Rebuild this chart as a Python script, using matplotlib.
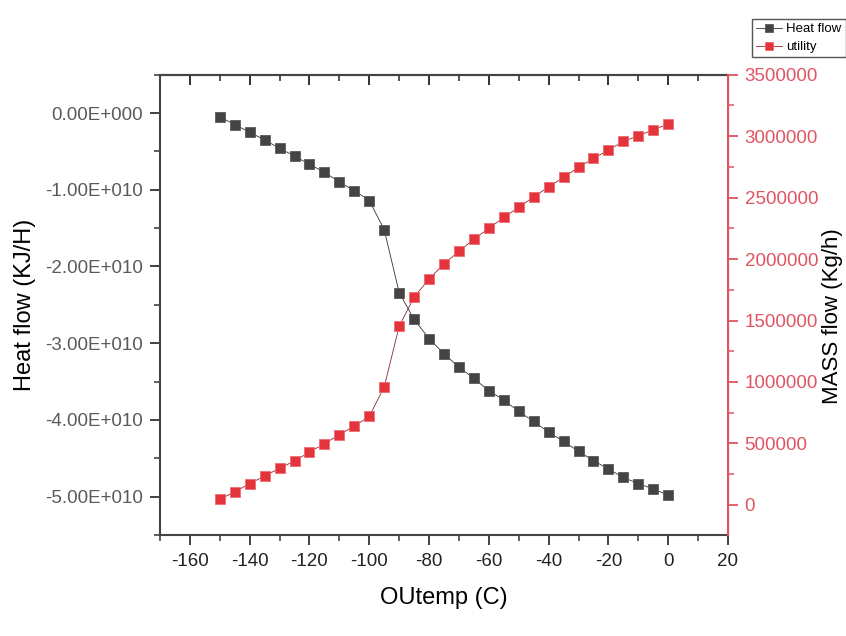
import matplotlib.pyplot as plt
from matplotlib.ticker import FuncFormatter, MultipleLocator

plt.rcParams['font.family'] = ['Liberation Sans', 'DejaVu Sans']
plt.rcParams['axes.unicode_minus'] = False

# OUtemp (C)
temp = [-150, -145, -140, -135, -130, -125, -120, -115, -110, -105, -100,
        -95, -90, -85, -80, -75, -70, -65, -60, -55, -50,
        -45, -40, -35, -30, -25, -20, -15, -10, -5, 0]

# Heat flow (KJ/H), in units of 1e10
heat = [-0.05, -0.15, -0.25, -0.35, -0.46, -0.56, -0.67, -0.77, -0.90, -1.01, -1.14,
        -1.52, -2.34, -2.69, -2.94, -3.14, -3.31, -3.46, -3.62, -3.74, -3.89,
        -4.02, -4.16, -4.28, -4.41, -4.53, -4.64, -4.75, -4.83, -4.90, -4.98]
heat = [h * 1e10 for h in heat]

# utility MASS flow (Kg/h)
mass = [46000, 105000, 173000, 235000, 298000, 357000, 430000, 498000, 571000, 641000, 720000,
        960000, 1453000, 1691000, 1837000, 1962000, 2063000, 2162000, 2250000, 2339000, 2421000,
        2506000, 2587000, 2665000, 2746000, 2819000, 2887000, 2957000, 3003000, 3052000, 3098000]

red = '#e3343c'
red_axis = '#e05462'
dark = '#444444'


def sci_fmt(v, pos):
    if v == 0:
        return '0.00E+000'
    s = '%.2E' % v
    mant, exp = s.split('E')
    return '%sE%s%03d' % (mant, exp[0], abs(int(exp)))


fig = plt.figure(figsize=(8.46, 6.36), dpi=100)
ax = fig.add_axes([160 / 846, 1 - 535 / 636, (728 - 160) / 846, (535 - 74.7) / 636])
ax2 = ax.twinx()

l1, = ax.plot(temp, heat, color='#333333', lw=0.6, marker='s', markersize=6.5,
              markerfacecolor=dark, markeredgecolor='#5a5a5a', markeredgewidth=0.6,
              label='Heat flow')
l2, = ax2.plot(temp, mass, color='#8a2a35', lw=0.6, marker='s', markersize=6.5,
               markerfacecolor=red, markeredgecolor='#f06a70', markeredgewidth=0.6,
               label='utility')

ax.set_xlim(-170, 20)
ax.set_ylim(-5.5e10, 0.5e10)
ax2.set_ylim(-245000, 3500000)

ax.xaxis.set_major_locator(MultipleLocator(20))
ax.xaxis.set_minor_locator(MultipleLocator(10))
ax.yaxis.set_major_locator(MultipleLocator(1e10))
ax.yaxis.set_minor_locator(MultipleLocator(0.5e10))
ax.yaxis.set_major_formatter(FuncFormatter(sci_fmt))
ax2.yaxis.set_major_locator(MultipleLocator(500000))
ax2.yaxis.set_minor_locator(MultipleLocator(250000))
ax2.yaxis.set_major_formatter(FuncFormatter(lambda v, p: '%d' % round(v)))

ax.tick_params(axis='both', which='major', length=7, width=1.3, labelsize=13.5,
               direction='out', colors='#333333')
ax.tick_params(axis='both', which='minor', length=4, width=1.1, direction='out',
               colors='#333333')
ax.tick_params(axis='y', labelcolor='#5a5a5a', pad=5)
ax.tick_params(axis='x', labelcolor='#222222', pad=6)

ax2.tick_params(axis='y', which='major', length=7, width=1.3, labelsize=13.5,
                direction='out', colors=red_axis, pad=5)
ax2.tick_params(axis='y', which='minor', length=4, width=1.1, direction='out',
                colors=red_axis)

top = ax.secondary_xaxis('top')
top.xaxis.set_major_locator(MultipleLocator(20))
top.xaxis.set_minor_locator(MultipleLocator(10))
top.tick_params(which='major', direction='in', length=7, width=1.3, labeltop=False,
                colors='#222222')
top.tick_params(which='minor', direction='in', length=4, width=1.1, colors='#222222')
top.spines['top'].set_linewidth(1.5)
top.spines['top'].set_color('#444444')

for s in ['left', 'bottom', 'top']:
    ax.spines[s].set_linewidth(1.5)
    ax.spines[s].set_color('#444444')
ax2.spines['right'].set_color(red_axis)
ax2.spines['right'].set_linewidth(1.5)
ax2.spines['top'].set_visible(False)
ax2.spines['left'].set_visible(False)
ax2.spines['bottom'].set_visible(False)

ax.set_xlabel('OUtemp (C)', fontsize=17, labelpad=12)
ax.set_ylabel('Heat flow (KJ/H)', fontsize=17, labelpad=7)
ax2.set_ylabel('MASS flow (Kg/h)', fontsize=16)
# label anchor sits on the text's left edge, in axes coords
ax2.yaxis.set_label_coords((822 - 160) / 568, 0.476)

fig.legend(handles=[l1, l2], loc='upper left', bbox_to_anchor=(752 / 846, 1 - 19 / 636),
           fontsize=9.5, frameon=True, fancybox=False, edgecolor='#555555',
           framealpha=1, handlelength=2.0, handletextpad=0.3, borderpad=0.3,
           labelspacing=0.45, markerscale=0.85, borderaxespad=0)

fig.savefig('out.png', dpi=100)
